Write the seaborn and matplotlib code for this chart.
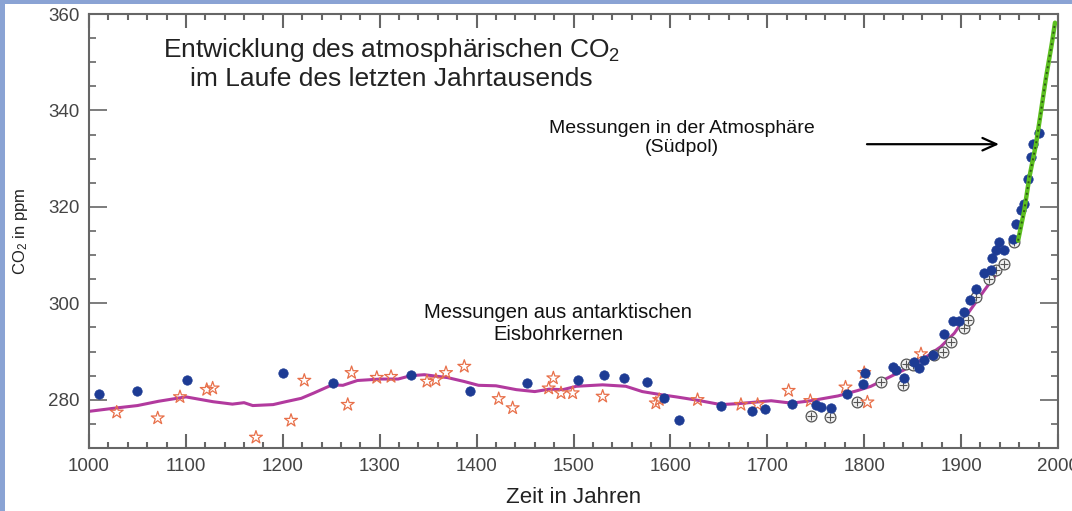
import numpy as np
import pandas as pd
import matplotlib
matplotlib.use('Agg')
import matplotlib.pyplot as plt
from matplotlib.patches import Rectangle
from matplotlib.ticker import MultipleLocator
import seaborn as sns

# Law-Dome-Eisbohrkerne (blaue Punkte)
blue_year = [1010.6, 1050, 1100.8, 1199.9, 1251.5, 1332.3, 1393.5, 1451.9, 1504.3, 1531.8,
             1551.8, 1575.5, 1593.7, 1609, 1652.2, 1684, 1698, 1725, 1750, 1755,
             1765.7, 1782, 1798.4, 1800.8, 1829.4, 1832.8, 1841.4, 1851.7, 1856.9, 1862,
             1870.7, 1882.7, 1891.3, 1898.2, 1903.3, 1909.5, 1915.4, 1924, 1930.8, 1931.6,
             1936, 1939.5, 1944.6, 1953.3, 1956.6, 1961.8, 1965.2, 1968.7, 1972, 1973.8, 1980.7]
blue_ppm = [281.2, 281.9, 284.1, 285.5, 283.4, 285.2, 281.9, 283.4, 284.1, 285.2,
            284.5, 283.6, 280.3, 275.9, 278.8, 277.6, 278.1, 279.2, 279.0, 278.6,
            278.3, 281.2, 283.2, 285.5, 286.9, 286.2, 284.6, 287.9, 286.5, 288.3,
            289.3, 293.6, 296.4, 296.4, 298.2, 300.7, 302.9, 306.3, 306.9, 309.5,
            311.0, 312.7, 311.1, 313.4, 316.4, 319.3, 320.6, 325.8, 330.3, 333.0, 335.4]

# andere Eiskerne (Sterne)
star_year = [1028.6, 1070.9, 1093.9, 1121.5, 1127.6, 1172.3, 1208.5, 1222.2, 1267, 1271,
             1297, 1311.7, 1348.8, 1358, 1368.4, 1387.3, 1422.8, 1437.2, 1474.4, 1479.2,
             1487.1, 1499.1, 1530.1, 1585, 1588.5, 1628, 1672.8, 1690, 1722, 1744.4,
             1780.7, 1800, 1803.3, 1858.6]
star_ppm = [277.4, 276.2, 280.6, 282.1, 282.4, 272.2, 275.7, 284.0, 279.0, 285.6,
            284.6, 284.8, 283.8, 284.1, 285.6, 286.9, 280.2, 278.3, 282.4, 284.5,
            281.4, 281.4, 280.7, 279.3, 280.0, 280.0, 279.0, 279.0, 281.9, 279.8,
            282.6, 285.6, 279.5, 289.5]

# Siple (Kreise mit Kreuz)
circ_year = [1745.6, 1765, 1792.6, 1817.3, 1839.7, 1843, 1850, 1872.3, 1881, 1889.6,
             1903.3, 1906.8, 1915.4, 1929, 1936, 1944.6, 1955]
circ_ppm = [276.7, 276.5, 279.6, 283.6, 283.0, 287.4, 287.2, 289.3, 290.0, 292.0,
            294.8, 296.5, 301.4, 305.1, 306.9, 308.1, 312.7]

# geglaettete Kurve
curve_year = [1000, 1028, 1050, 1072, 1100, 1128, 1148, 1160, 1169, 1190,
              1203, 1219, 1232, 1251, 1262, 1277, 1301, 1319, 1332, 1346,
              1370, 1387, 1402, 1420, 1441, 1460, 1475, 1489, 1503, 1530,
              1554, 1571, 1592, 1606, 1628, 1652, 1670, 1704, 1725, 1745,
              1773, 1793, 1807, 1817, 1841, 1862, 1879, 1893, 1907, 1924, 1938]
curve_ppm = [277.6, 278.3, 278.8, 279.7, 280.6, 279.6, 279.1, 279.4, 278.8, 279.0,
             279.6, 280.3, 281.4, 283.1, 283.0, 284.0, 284.3, 284.3, 285.0, 285.2,
             284.6, 283.8, 283.0, 282.9, 282.1, 281.7, 282.2, 282.1, 282.8, 283.1,
             282.8, 281.7, 281.0, 280.6, 279.9, 279.0, 279.2, 279.8, 279.3, 279.8,
             280.8, 281.9, 282.8, 283.8, 286.2, 288.6, 291.0, 293.8, 297.9, 302.7, 306.5]

# Atmosphaere Suedpol (gruen)
atm_year = [1958.8, 1965.2, 1970.4, 1977.3, 1982.5, 1987.6, 1993.5, 1996.9]
atm_ppm = [313.0, 319.3, 326.1, 333.0, 339.9, 346.8, 353.7, 358.2]

sns.set_style('ticks')
plt.rcParams['font.family'] = ['Liberation Sans', 'DejaVu Sans']
plt.rcParams['mathtext.fontset'] = 'custom'
plt.rcParams['mathtext.rm'] = 'Liberation Sans'
plt.rcParams['mathtext.it'] = 'Liberation Sans'

fig = plt.figure(figsize=(10.72, 5.11), dpi=100, facecolor='#8aa3d4')
fig.patches.append(Rectangle((5/1072, 0), 1, 1 - 4/511, transform=fig.transFigure,
                             facecolor='white', edgecolor='none', zorder=-5))
ax = fig.add_axes([89/1072, 1 - 448/511, 969/1072, 434/511])
ax.set_zorder(2)
ax.set_facecolor('white')

sns.lineplot(x=curve_year, y=curve_ppm, ax=ax, color='#b23a9e', lw=2.2, sort=False, zorder=2)
sns.lineplot(x=atm_year, y=atm_ppm, ax=ax, color='#5cbf1f', lw=3.2, sort=False, zorder=5)
sns.lineplot(x=atm_year, y=atm_ppm, ax=ax, color='#2d5a14', lw=1.4, ls=(0, (1, 2)), sort=False, zorder=6)

sns.scatterplot(x=circ_year, y=circ_ppm, ax=ax, marker='o', s=60, facecolor='#f2f2f2',
                edgecolor='#555555', linewidth=0.9, zorder=3)
sns.scatterplot(x=circ_year, y=circ_ppm, ax=ax, marker='+', s=30, color='#555555',
                linewidth=0.8, zorder=3)
sns.scatterplot(x=star_year, y=star_ppm, ax=ax, marker='*', s=95, facecolor='none',
                edgecolor='#e8704a', linewidth=0.9, zorder=4)
sns.scatterplot(x=blue_year, y=blue_ppm, ax=ax, marker='o', s=46, color='#1d3b94',
                edgecolor='#1d3b94', linewidth=0.5, zorder=4)

ax.set_xlim(1000, 2000)
ax.set_ylim(270, 360)
ax.xaxis.set_major_locator(MultipleLocator(100))
ax.xaxis.set_minor_locator(MultipleLocator(20))
ax.yaxis.set_major_locator(MultipleLocator(20))
ax.yaxis.set_minor_locator(MultipleLocator(5))
ax.yaxis.set_major_formatter(matplotlib.ticker.FuncFormatter(lambda v, p: '' if v < 280 else f'{v:.0f}'))

for s in ax.spines.values():
    s.set_color('#666666')
    s.set_linewidth(1.5)
ax.tick_params(axis='both', which='both', direction='in', top=True, right=True,
               color='#666666', labelcolor='#444444', labelsize=13.5)
ax.tick_params(axis='x', which='major', length=10, width=1.5, pad=7)
ax.tick_params(axis='x', which='minor', length=4, width=1.5)
ax.tick_params(axis='y', which='major', length=13, width=1.2, pad=7)
ax.tick_params(axis='y', which='minor', length=5, width=1.2)

ax.set_xlabel('Zeit in Jahren', fontsize=16, color='#222222', labelpad=9)
ax.set_ylabel('CO$_2$ in ppm', fontsize=12, color='#222222', labelpad=13)

ax.text(1312, 349.7, 'Entwicklung des atmosphärischen CO$_2$\nim Laufe des letzten Jahrtausends',
        ha='center', va='center', fontsize=19, color='#222222', linespacing=1.15)
ax.text(1612, 334.3, 'Messungen in der Atmosphäre\n(Südpol)',
        ha='center', va='center', fontsize=14, color='#111111', linespacing=1.1)
ax.text(1484, 295.8, 'Messungen aus antarktischen\nEisbohrkernen',
        ha='center', va='center', fontsize=14.5, color='#111111', linespacing=1.2)
ax.annotate('', xy=(1942, 333.0), xytext=(1800, 333.0),
            arrowprops=dict(arrowstyle='->,head_length=1.0,head_width=0.45', color='black', lw=1.6))

fig.savefig('out.png', dpi=100, facecolor=fig.get_facecolor())
